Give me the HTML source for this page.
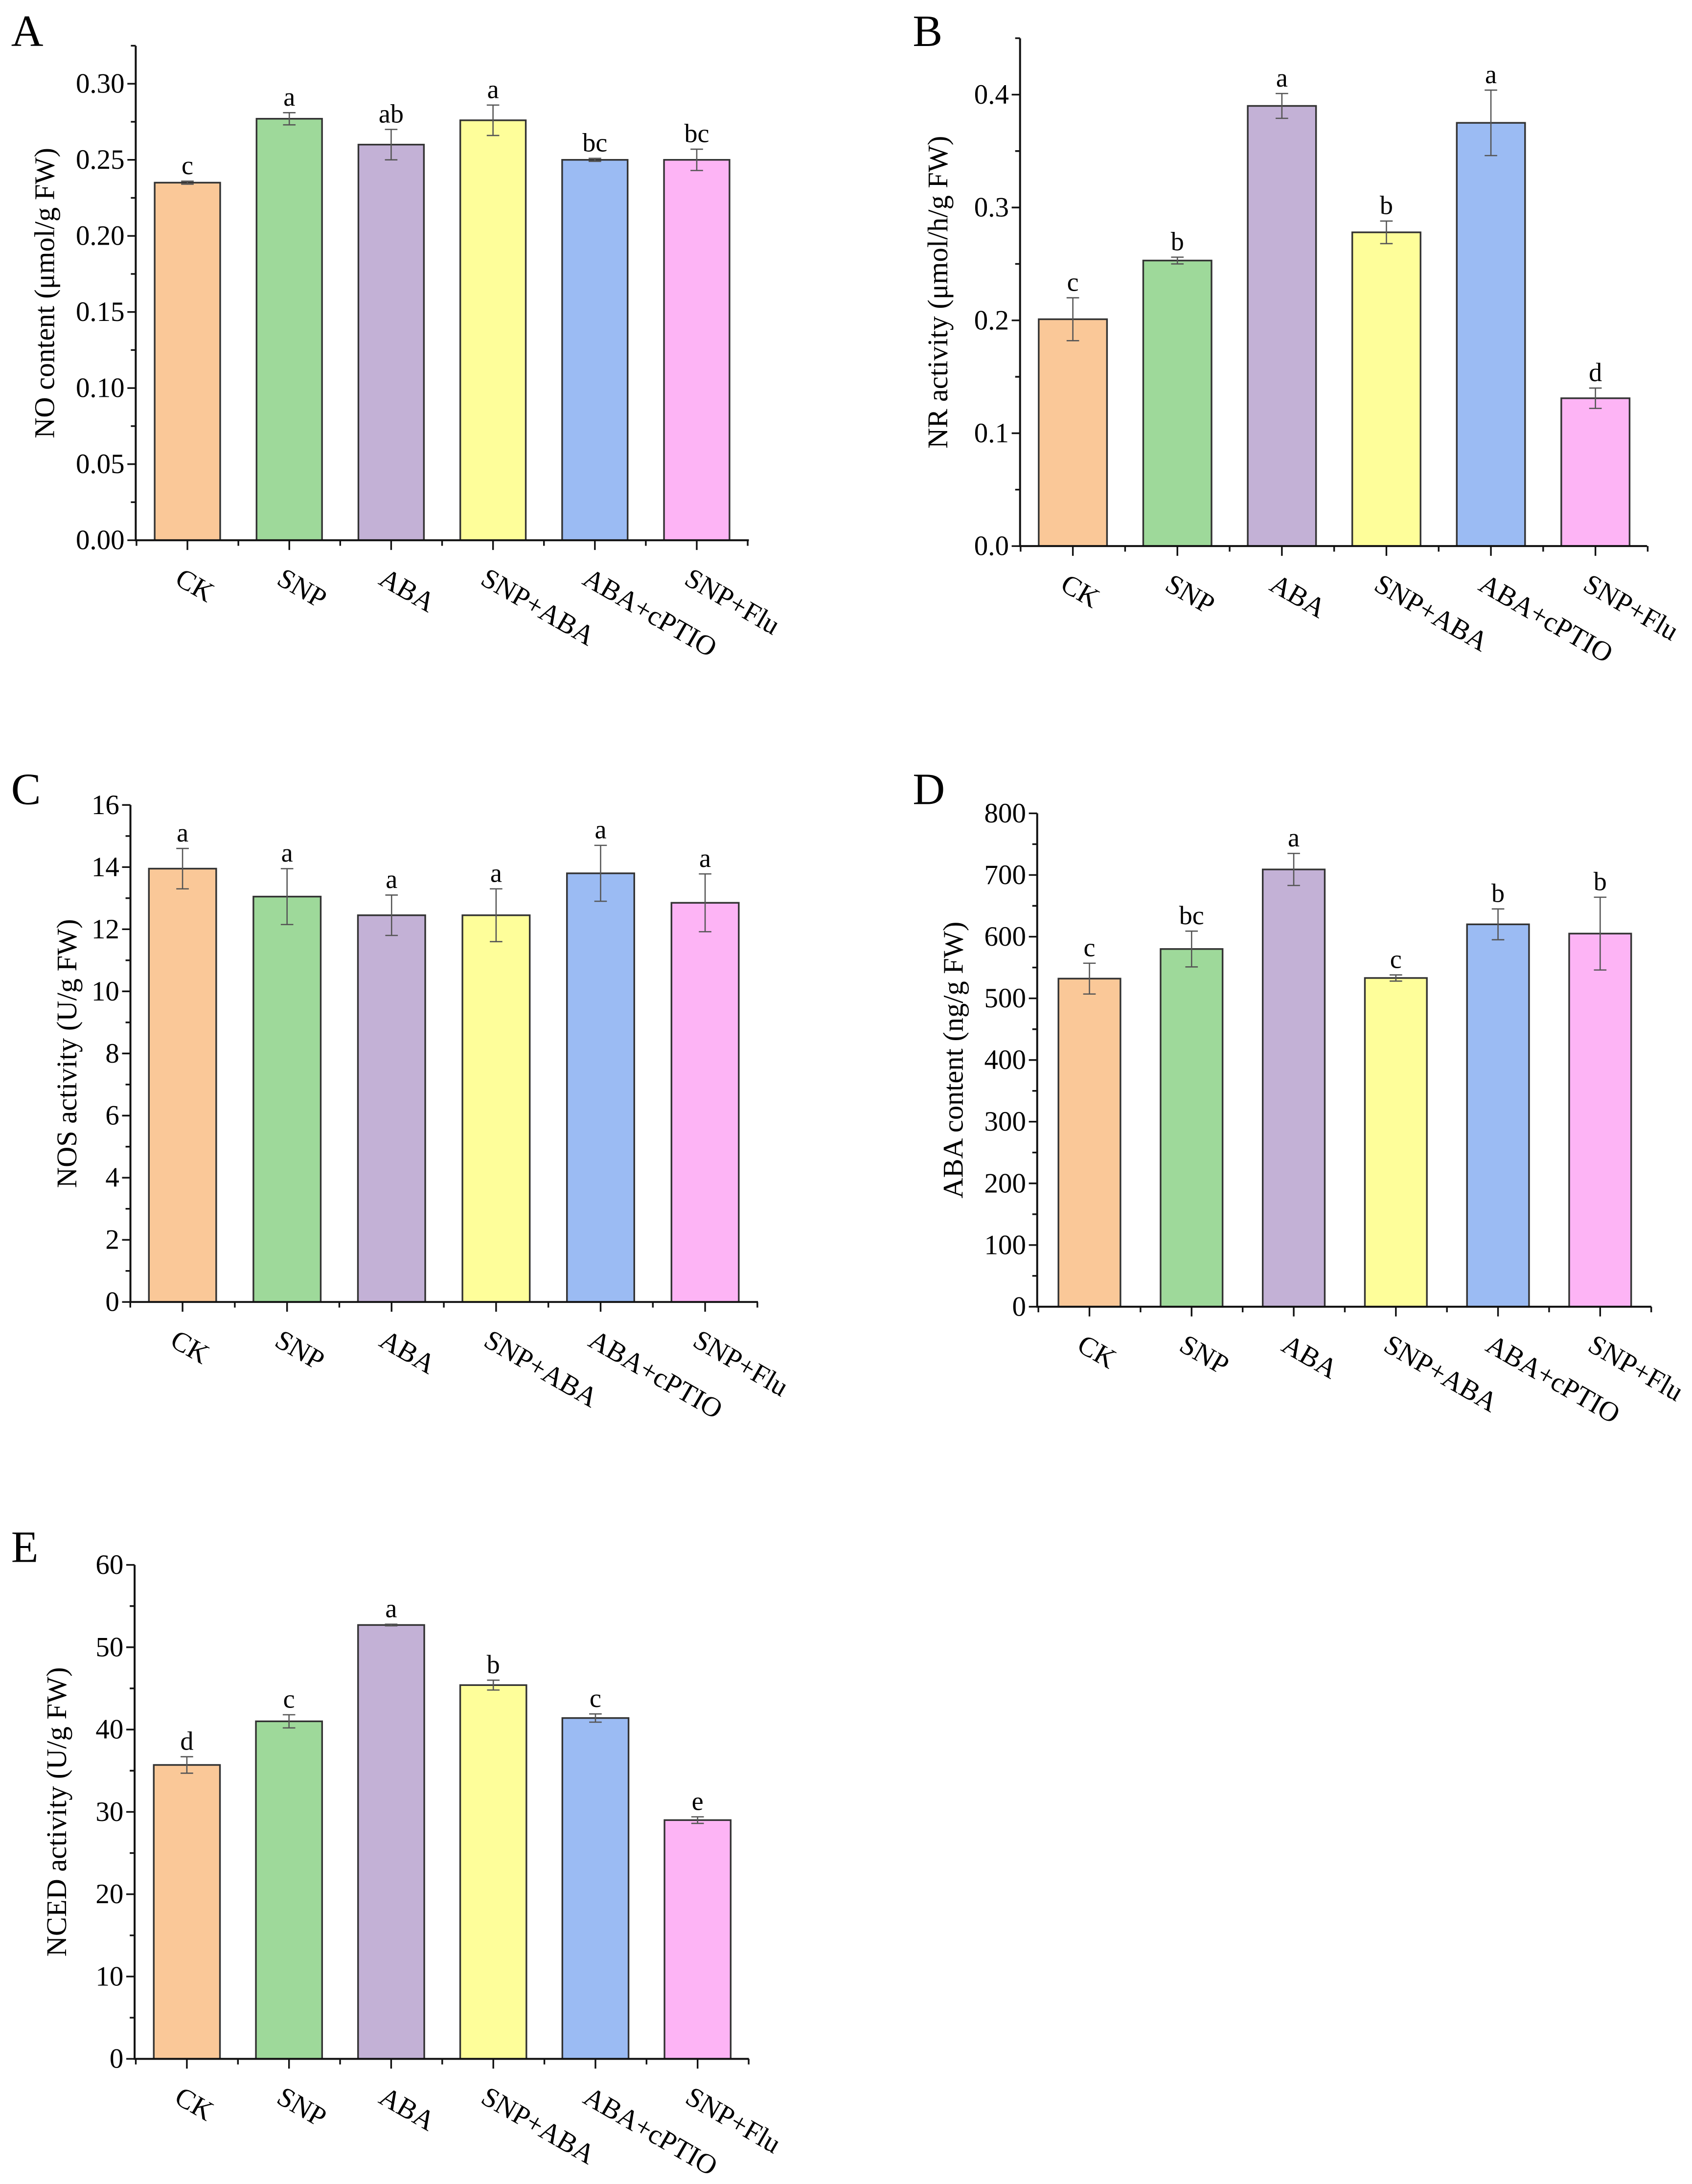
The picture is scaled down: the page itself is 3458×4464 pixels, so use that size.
<!DOCTYPE html>
<html><head><meta charset="utf-8"><style>
html,body{margin:0;padding:0;background:#fff}
svg{display:block}
text{font-family:"Liberation Serif",serif;fill:#000}
</style></head><body>
<svg id="fig" xmlns="http://www.w3.org/2000/svg" width="3458" height="4464" viewBox="0 0 1214.2 1567.4"></svg>
<script>
const categories = ["CK","SNP","ABA","SNP+ABA","ABA+cPTIO","SNP+Flu"];
const colors = ["#FAC898","#9ED99A","#C3B1D6","#FEFE9A","#9BBBF3","#FDB4F5"];
// Panel A
const valuesA = [0.235,0.277,0.260,0.276,0.250,0.250];
const errorsA = [0.001,0.004,0.010,0.010,0.001,0.007];
const lettersA = ["c","a","ab","a","bc","bc"];
const ticksA = ["0.00","0.05","0.10","0.15","0.20","0.25","0.30"];
// Panel B
const valuesB = [0.201,0.253,0.390,0.278,0.375,0.131];
const errorsB = [0.019,0.003,0.011,0.010,0.029,0.009];
const lettersB = ["c","b","a","b","a","d"];
const ticksB = ["0.0","0.1","0.2","0.3","0.4"];
// Panel C
const valuesC = [13.95,13.05,12.45,12.45,13.8,12.85];
const errorsC = [0.65,0.9,0.65,0.85,0.9,0.93];
const lettersC = ["a","a","a","a","a","a"];
const ticksC = ["0","2","4","6","8","10","12","14","16"];
// Panel D
const valuesD = [532,580,709,533,620,605];
const errorsD = [25,29,26,5,25,59];
const lettersD = ["c","bc","a","c","b","b"];
const ticksD = ["0","100","200","300","400","500","600","700","800"];
// Panel E
const valuesE = [35.7,41.0,52.7,45.4,41.4,29.0];
const errorsE = [1.0,0.8,0.1,0.6,0.5,0.4];
const lettersE = ["d","c","a","b","c","e"];
const ticksE = ["0","10","20","30","40","50","60"];

const NS="http://www.w3.org/2000/svg";
const svg=document.getElementById('fig');
function mk(tag,attrs,parent){const e=document.createElementNS(NS,tag);for(const k in attrs)e.setAttribute(k,attrs[k]);(parent||svg).appendChild(e);return e;}

const panels=[
 {id:'a',label:'A',lx:8,ly:33,ax:97.4,y0:387.7,yTopPx:60.1,yTopVal:0.30,axTop:32.9,xEnd:537.4,c0:134.5,sp:73.1,bw:47,
  vals:valuesA,errs:errorsA,lets:lettersA,ticks:ticksA,title:"NO content (μmol/g FW)",tx:32},
 {id:'b',label:'B',lx:655,ly:33,ax:732,y0:391.9,yTopPx:67.9,yTopVal:0.4,axTop:27.5,xEnd:1182,c0:769.9,sp:75,bw:49,
  vals:valuesB,errs:errorsB,lets:lettersB,ticks:ticksB,title:"NR activity (μmol/h/g FW)",tx:673},
 {id:'c',label:'C',lx:8,ly:577,ax:93.6,y0:934.4,yTopPx:577.7,yTopVal:16,axTop:577.7,xEnd:543.9,c0:131,sp:75,bw:48.3,
  vals:valuesC,errs:errorsC,lets:lettersC,ticks:ticksC,title:"NOS activity (U/g FW)",tx:48},
 {id:'d',label:'D',lx:655,ly:577,ax:744.3,y0:937.8,yTopPx:583.7,yTopVal:800,axTop:583.7,xEnd:1185,c0:781.8,sp:73.3,bw:44.5,
  vals:valuesD,errs:errorsD,lets:lettersD,ticks:ticksD,title:"ABA content (ng/g FW)",tx:684},
 {id:'e',label:'E',lx:8,ly:1121,ax:96.6,y0:1477.6,yTopPx:1123.1,yTopVal:60,axTop:1123.1,xEnd:537.4,c0:134.1,sp:73.3,bw:47.5,
  vals:valuesE,errs:errorsE,lets:lettersE,ticks:ticksE,title:"NCED activity (U/g FW)",tx:40.6}
];

panels.forEach(p=>{
  const g=mk('g',{});
  
  
  const yS=v=>p.y0-(v/p.yTopVal)*(p.y0-p.yTopPx);
  const xS=i=>p.c0+i*p.sp;
  const pl=mk('text',{x:p.lx,y:p.ly,'font-size':32},g);
  pl.textContent=p.label;
  
  
  p.vals.forEach((v,i)=>{
    const r=mk('rect',{x:xS(i)-p.bw/2,y:yS(v),width:p.bw,height:p.y0-yS(v),fill:colors[i],stroke:'#333','stroke-width':1.2},g);
    
    
    const hi=yS(v+p.errs[i]), lo=yS(v-p.errs[i]), cx=xS(i);
    const eb=mk('path',{d:`M${cx},${hi}V${lo}M${cx-4.5},${hi}H${cx+4.5}M${cx-4.5},${lo}H${cx+4.5}`,stroke:'#555','stroke-width':0.9,fill:'none'},g);
    
    
    const lt=mk('text',{x:cx,y:hi-5,'font-size':19,'text-anchor':'middle'},g);
    lt.textContent=p.lets[i];
    
    
    const cl=mk('text',{x:cx-10,y:p.y0+31,'font-size':20,transform:`rotate(30 ${cx-10} ${p.y0+31})`},g);
    cl.textContent=categories[i];
    
    
  });
  const axes=mk('path',{d:`M${p.ax},${p.axTop}V${p.y0}H${p.xEnd}`,stroke:'#111','stroke-width':1.4,fill:'none'},g);
  
  
  const n=p.ticks.length-1;
  let d='';
  p.ticks.forEach((t,k)=>{
    const v=p.yTopVal*k/n, y=yS(v);
    d+=`M${p.ax-6},${y}H${p.ax}`;
    const ym=yS(v+p.yTopVal/n/2); if(ym>=p.axTop-0.5) d+=`M${p.ax-3.5},${ym}H${p.ax}`;
    const tl=mk('text',{x:p.ax-8,y:y+6.5,'font-size':20,'text-anchor':'end'},g);
    tl.textContent=t;
    
    
  });
  for(let i=0;i<categories.length;i++){d+=`M${xS(i)},${p.y0}V${p.y0+7}M${xS(i)+p.sp/2},${p.y0}V${p.y0+4}`;}
  d+=`M${xS(0)-p.sp/2},${p.y0}V${p.y0+4}`;
  const tk=mk('path',{d:d,stroke:'#111','stroke-width':1.2,fill:'none'},g);
  
  
  const cy=(p.y0+p.axTop)/2;
  const yt=mk('text',{x:p.tx,y:cy,'font-size':20.5,'text-anchor':'middle','dominant-baseline':'central',transform:`rotate(-90 ${p.tx} ${cy})`},g);
  yt.textContent=p.title;
  
  
});
</script>
</body></html>
